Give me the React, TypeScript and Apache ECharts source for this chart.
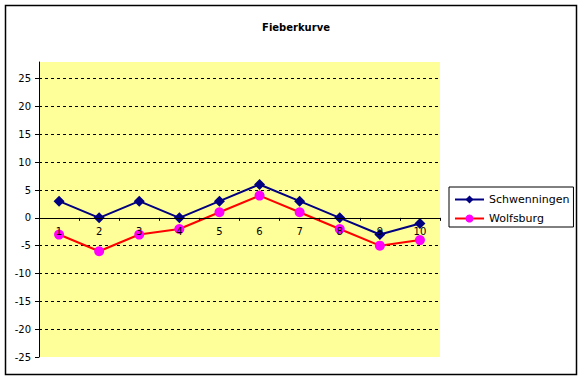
import React, { useEffect, useRef } from "react";
import * as echarts from "echarts";

const categories = ["1", "2", "3", "4", "5", "6", "7", "8", "9", "10"];
const schwenningen = [3, 0, 3, 0, 3, 6, 3, 0, -3, -1];
const wolfsburg = [-3, -6, -3, -2, 1, 4, 1, -2, -5, -4];
const yMin = -25;
const yMax = 28;
const yInterval = 5;

const FONT = "DejaVu Sans";
const W = 582;
const H = 381;
const GRID_TOP = 62;
const GRID_BOTTOM = 24;

export default function App() {
  const ref = useRef<HTMLDivElement>(null);
  useEffect(() => {
    if (!ref.current) return;
    const chart = echarts.init(ref.current, null, { renderer: "svg" });
    const plotH = H - GRID_TOP - GRID_BOTTOM;
    const zeroOffset = -((0 - yMin) / (yMax - yMin)) * plotH;
    chart.setOption({
      animation: false,
      backgroundColor: "#ffffff",
      title: {
        text: "Fieberkurve",
        left: 291,
        top: 17,
        textAlign: "center",
        textStyle: { fontFamily: FONT, fontSize: 10, fontWeight: "bold", color: "#000" },
      },
      graphic: [
        {
          type: "rect",
          shape: { x: 5.5, y: 5.5, width: 571, height: 369 },
          style: { fill: "none", stroke: "#000", lineWidth: 1.5 },
          silent: true,
          z: 100,
        },
      ],
      grid: {
        left: 39,
        right: W - 440,
        top: GRID_TOP,
        bottom: GRID_BOTTOM,
        show: true,
        backgroundColor: "#FFFF99",
        borderWidth: 0,
      },
      legend: {
        orient: "vertical",
        left: 449,
        top: 187,
        borderColor: "#000",
        borderWidth: 1,
        padding: [7, 4, 3, 5],
        itemWidth: 29,
        itemHeight: 10,
        itemGap: 8,
        textStyle: { fontFamily: FONT, fontSize: 11, color: "#000" },
        data: ["Schwenningen", "Wolfsburg"],
      },
      xAxis: {
        type: "category",
        data: categories,
        boundaryGap: true,
        position: "bottom",
        offset: zeroOffset,
        z: 10,
        axisLine: { onZero: false, lineStyle: { color: "#000", width: 1 } },
        axisTick: { show: true, inside: false, length: 3, lineStyle: { color: "#000" } },
        axisLabel: { fontFamily: FONT, fontSize: 10, color: "#000", margin: 9 },
        splitLine: { show: false },
      },
      yAxis: {
        type: "value",
        min: yMin,
        max: yMax,
        interval: yInterval,
        axisLine: { show: true, lineStyle: { color: "#000", width: 1 } },
        axisTick: { show: true, length: 4, lineStyle: { color: "#000" } },
        axisLabel: {
          fontFamily: FONT,
          fontSize: 10,
          color: "#000",
          margin: 8,
          showMaxLabel: false,
          formatter: (v: number) => (v % yInterval === 0 ? String(v) : ""),
        },
        splitLine: {
          show: true,
          showMinLine: false,
          showMaxLine: false,
          lineStyle: { color: "#000", type: [3, 3], width: 1 },
        },
      },
      series: [
        {
          name: "Schwenningen",
          type: "line",
          data: schwenningen,
          symbol: "diamond",
          symbolSize: 11,
          lineStyle: { color: "#000080", width: 2 },
          itemStyle: { color: "#000080" },
          z: 3,
        },
        {
          name: "Wolfsburg",
          type: "line",
          data: wolfsburg,
          symbol: "circle",
          symbolSize: 10,
          lineStyle: { color: "#FF0000", width: 2 },
          itemStyle: { color: "#FF00FF" },
          z: 2,
        },
      ],
    });
    return () => chart.dispose();
  }, []);
  return (
    <div
      ref={ref}
      style={{ position: "fixed", left: 0, top: 0, width: W, height: H }}
    />
  );
}
